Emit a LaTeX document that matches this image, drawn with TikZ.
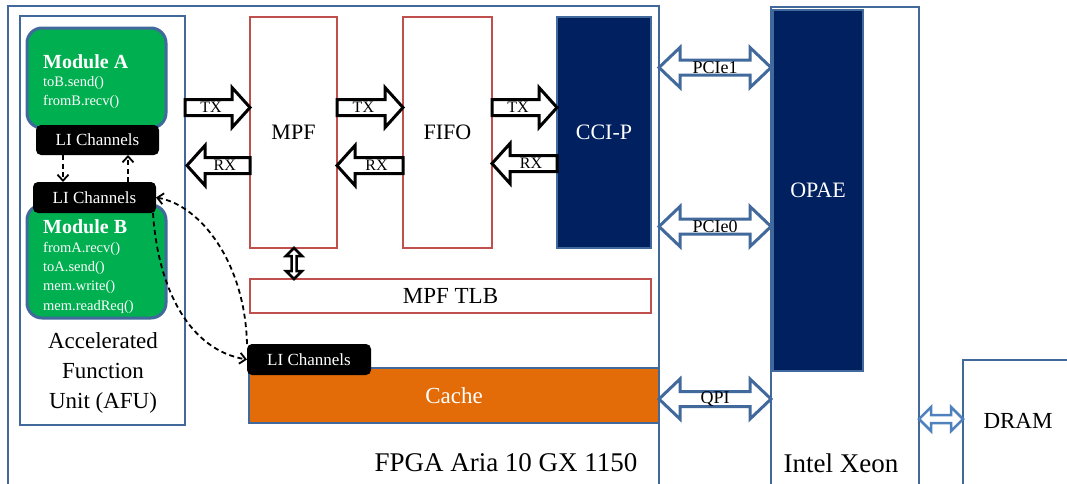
\documentclass[tikz,border=0pt]{standalone}
\usepackage{fontspec}
\setmainfont{Liberation Serif}
\usetikzlibrary{calc,arrows.meta}
\definecolor{fblue}{RGB}{65,105,155}
\definecolor{fred}{RGB}{192,80,77}
\definecolor{fgreen}{RGB}{0,176,80}
\definecolor{fnavy}{RGB}{0,32,96}
\definecolor{forange}{RGB}{227,108,9}
\definecolor{lblue}{RGB}{79,129,189}
\newcommand{\pxfont}[1]{\fontsize{#1}{#1}\selectfont}
% block arrow: start, tip, head length (signed), label, label name
\newcommand{\blk}[5]{%
  \draw[blockarr] ($(#1)+(0,-8)$) -- ($(#2)+(#3,-8)$) -- ($(#2)+(#3,-20)$) -- (#2)
    -- ($(#2)+(#3,20)$) -- ($(#2)+(#3,8)$) -- ($(#1)+(0,8)$) -- cycle;
  \node[font=\pxfont{16}, inner sep=0] (#5) at ($(#1)!0.4!(#2)$) {#4};}
% horizontal double arrow: left tip, right tip, head length, head half width, shaft half width, style
\newcommand{\dblk}[6]{%
  \draw[#6] (#1) -- ($(#1)+(#3,-#4)$) -- ($(#1)+(#3,-#5)$) -- ($(#2)+(-#3,-#5)$) -- ($(#2)+(-#3,-#4)$)
    -- (#2) -- ($(#2)+(-#3,#4)$) -- ($(#2)+(-#3,#5)$) -- ($(#1)+(#3,#5)$) -- ($(#1)+(#3,#4)$) -- cycle;}
\tikzset{
  frame/.style={draw=fblue, line width=2.5pt, anchor=north west, inner sep=0, outer sep=0},
  redbox/.style={draw=fred, line width=2.5pt, fill=white, anchor=north west, inner sep=0, outer sep=0},
  navybox/.style={draw=fblue, fill=fnavy, line width=2.5pt, anchor=north west, inner sep=0, outer sep=0, text=white, font=\pxfont{22}},
  module/.style={draw=fblue, fill=fgreen, line width=3pt, rounded corners=15pt, anchor=north west, inner sep=0, outer sep=0},
  li/.style={fill=black, rounded corners=5pt, anchor=north west, inner sep=0, outer sep=0, text=white, font=\pxfont{17}},
  modtxt/.style={anchor=west, inner sep=0, text=white, font=\pxfont{14.5}},
  blockarr/.style={draw=black, line width=3pt, fill=white, line join=miter},
  bluearr/.style={draw=fblue, line width=3pt, fill=white, line join=miter},
  dsh/.style={dash pattern=on 5pt off 3.5pt, line width=1.8pt},
  barb/.style={-{Straight Barb[length=6pt,width=11pt,line width=1.8pt]}},
}
\begin{document}
\begin{tikzpicture}[x=1pt,y=-1pt]
\useasboundingbox (0,0) rectangle (1067,483);
% FPGA frame
\node[frame, minimum width=651pt, minimum height=500pt] (fpga) at (8,6) {};
\node[font=\pxfont{27}, inner sep=0] (fpgat) at (506,463) {FPGA Aria 10 GX 1150};
% AFU
\node[frame, minimum width=165pt, minimum height=409pt] (afu) at (20,16) {};
\node[font=\fontsize{23}{30}\selectfont, align=center, inner sep=0] (afut) at (103,373) {Accelerated\\Function\\Unit (AFU)};
% Module A
\node[module, minimum width=139pt, minimum height=100pt] (modA) at (27,28) {};
\node[modtxt, font=\bfseries\pxfont{20}] (modAt) at (43,62) {Module A};
\node[modtxt] (modA1) at (43,83) {toB.send()};
\node[modtxt] (modA2) at (43,102) {fromB.recv()};
\node[li, minimum width=123pt, minimum height=30pt] (liA) at (36,125) {LI Channels};
% Module B
\node[module, minimum width=139pt, minimum height=113pt] (modB) at (27,205) {};
\node[modtxt, font=\bfseries\pxfont{20}] (modBt) at (43,227) {Module B};
\node[modtxt] (modB1) at (43,249) {fromA.recv()};
\node[modtxt] (modB2) at (43,268) {toA.send()};
\node[modtxt] (modB3) at (43,287) {mem.write()};
\node[modtxt] (modB4) at (43,307) {mem.readReq()};
\node[li, minimum width=123pt, minimum height=31pt] (liB) at (33,182) {LI Channels};
% dashed arrows between LI channels
\draw[dsh, barb] (63,0 |- liA.south) -- (63,0 |- liB.north);
\draw[dsh, barb] (128,0 |- liB.north) -- (128,0 |- liA.south);
% MPF, FIFO, CCI-P, TLB, Cache
\node[redbox, minimum width=87pt, minimum height=231pt, font=\pxfont{22}] (mpf) at (250,17) {MPF};
\node[redbox, minimum width=89pt, minimum height=231pt, font=\pxfont{22}] (fifo) at (403,17) {FIFO};
\node[navybox, minimum width=94pt, minimum height=231pt] (ccip) at (557,17) {CCI-P};
\node[redbox, minimum width=401pt, minimum height=34pt, font=\pxfont{23}] (tlb) at (250,279) {MPF TLB};
\node[draw=fblue, fill=forange, line width=2.5pt, anchor=north west, inner sep=0, outer sep=0,
      minimum width=410pt, minimum height=55pt, text=white, font=\pxfont{23}] (cache) at (249,368) {Cache};
\node[li, minimum width=124pt, minimum height=31pt] (liC) at (247,344) {LI Channels};
% TX / RX block arrows
\coordinate (t1s) at (afu.east |- 0,107.5);  \coordinate (t1e) at (mpf.west |- 0,107.5);
\coordinate (r1s) at (mpf.west |- 0,165.5);  \coordinate (r1e) at (187,165.5);
\coordinate (t2s) at (mpf.east |- 0,107.5);  \coordinate (t2e) at (fifo.west |- 0,107.5);
\coordinate (r2s) at (fifo.west |- 0,165.5); \coordinate (r2e) at (mpf.east |- 0,165.5);
\coordinate (t3s) at (fifo.east |- 0,107.5); \coordinate (t3e) at (ccip.west |- 0,107.5);
\coordinate (r3s) at (ccip.west |- 0,163.5); \coordinate (r3e) at (fifo.east |- 0,163.5);
\blk{t1s}{t1e}{-18}{TX}{tx1}
\blk{r1s}{r1e}{18}{RX}{rx1}
\blk{t2s}{t2e}{-18}{TX}{tx2}
\blk{r2s}{r2e}{18}{RX}{rx2}
\blk{t3s}{t3e}{-18}{TX}{tx3}
\blk{r3s}{r3e}{18}{RX}{rx3}
% MPF <-> TLB
\coordinate (v1) at (294,0 |- mpf.south); \coordinate (v2) at (294,0 |- tlb.north);
\draw[blockarr, line width=2.5pt] (v1) -- ($(v1)+(8,8)$) -- ($(v1)+(2.5,8)$) -- ($(v2)+(2.5,-8)$) -- ($(v2)+(8,-8)$)
  -- (v2) -- ($(v2)+(-8,-8)$) -- ($(v2)+(-2.5,-8)$) -- ($(v1)+(-2.5,8)$) -- ($(v1)+(-8,8)$) -- cycle;
% dashed curves
\draw[dsh, barb] (liC.north west) .. controls (245,262) and (200,205) .. (liB.east);
\draw[dsh, barb] ($(liB.south east)+(-3,0)$) .. controls (158,290) and (190,350) .. (liC.west);
% Intel Xeon
\node[frame, minimum width=148pt, minimum height=500pt] (xeon) at (771,7) {};
\node[navybox, line width=2pt, minimum width=90pt, minimum height=361pt] (opae) at (773,10) {OPAE};
\node[font=\pxfont{27}, inner sep=0] (xeont) at (841,463) {Intel Xeon};
% links
\coordinate (p1l) at (fpga.east |- 0,67.5);  \coordinate (p1r) at (xeon.west |- 0,67.5);
\coordinate (p0l) at (fpga.east |- 0,226.5); \coordinate (p0r) at (xeon.west |- 0,226.5);
\coordinate (ql) at (fpga.east |- 0,399);    \coordinate (qr) at (xeon.west |- 0,399);
\dblk{p1l}{p1r}{21}{20}{7.5}{bluearr}
\dblk{p0l}{p0r}{21}{20}{7.5}{bluearr}
\dblk{ql}{qr}{21}{20}{7.5}{bluearr}
\node[font=\pxfont{18}, inner sep=0] (p1t) at ($(p1l)!0.5!(p1r)$) {PCIe1};
\node[font=\pxfont{18}, inner sep=0] (p0t) at ($(p0l)!0.5!(p0r)$) {PCIe0};
\node[font=\pxfont{18}, inner sep=0] (qt) at ($(ql)!0.5!(qr)$) {QPI};
% DRAM
\node[frame, minimum width=130pt, minimum height=150pt] (dram) at (963,360) {};
\node[font=\pxfont{23}, inner sep=0] (dramt) at (1018,421) {DRAM};
\coordinate (dl) at (xeon.east |- 0,419); \coordinate (dr) at (dram.west |- 0,419);
\dblk{dl}{dr}{12}{12}{4}{bluearr, draw=lblue, line width=2.5pt}
\end{tikzpicture}
\end{document}
